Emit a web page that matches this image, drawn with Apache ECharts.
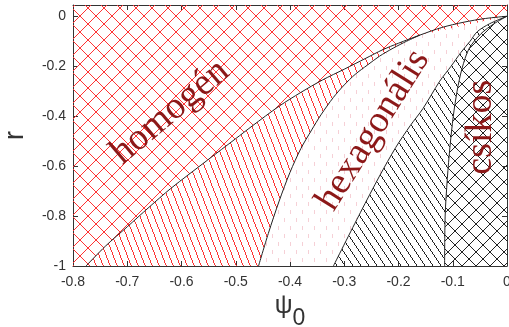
<!DOCTYPE html>
<html>
<head>
<meta charset="utf-8">
<script src="https://cdn.jsdelivr.net/npm/echarts@6/dist/echarts.min.js"></script>
<style>
html, body { margin: 0; padding: 0; background: #fff; }
#main { width: 509px; height: 327px; }
</style>
</head>
<body>
<div id="main"></div>
<script>
// phase boundaries, [psi0, r]
const Y_MAX = 0.045;
const b1 = [[-0.776,-1],[-0.74,-0.92],[-0.70,-0.843],[-0.66,-0.765],[-0.62,-0.69],[-0.552,-0.576],[-0.50,-0.49],[-0.47,-0.44],[-0.42,-0.36],[-0.38,-0.305],[-0.34,-0.255],[-0.30,-0.212],[-0.26,-0.168],[-0.23,-0.135],[-0.20,-0.108],[-0.16,-0.075],[-0.12,-0.045],[-0.08,-0.024],[-0.04,-0.009],[0,0]];
const b2 = [[-0.458,-1],[-0.44,-0.87],[-0.42,-0.74],[-0.40,-0.625],[-0.38,-0.53],[-0.36,-0.455],[-0.343,-0.395],[-0.32,-0.325],[-0.30,-0.275],[-0.28,-0.233],[-0.257,-0.195],[-0.235,-0.16],[-0.21,-0.128],[-0.185,-0.1],[-0.16,-0.075]];
const b3 = [[-0.32,-1],[-0.27,-0.785],[-0.235,-0.64],[-0.205,-0.525],[-0.178,-0.437],[-0.155,-0.37],[-0.124,-0.26],[-0.103,-0.2],[-0.085,-0.145],[-0.068,-0.1],[-0.055,-0.062],[-0.032,-0.03],[0,0]];
const b4 = [[-0.115,-1],[-0.114,-0.8],[-0.11,-0.65],[-0.105,-0.52],[-0.099,-0.4],[-0.092,-0.3],[-0.083,-0.21],[-0.07,-0.13],[-0.048,-0.07],[-0.024,-0.03],[0,0]];
const phaseNames = ['homogén', 'hexagonális', 'csíkos'];

// pixel-drawn hatch tiles (crisp 1px lines like the original)
function tile(w, h, color, draw) {
    var c = document.createElement('canvas');
    c.width = w; c.height = h;
    var ctx = c.getContext('2d');
    ctx.fillStyle = color;
    draw(ctx);
    return c;
}
function cross(p, color) {
    return tile(p, p, color, function (ctx) {
        for (var i = 0; i < p; i++) {
            ctx.fillRect(i, i, 1, 1);
            ctx.fillRect(p - 1 - i, i, 1, 1);
        }
    });
}
function slant(w, h, color) {
    return tile(w, h, color, function (ctx) {
        for (var y = 0; y < h; y++) ctx.fillRect(Math.floor(y * w / h), y, 1, 1);
    });
}
function dots() {
    return tile(12, 16, '#f6d0d6', function (ctx) {
        ctx.fillRect(2, 2, 1, 4);
        ctx.fillRect(8, 10, 1, 4);
    });
}

const fills = {
    homog: { image: cross(16, '#f33'), repeat: 'repeat' },
    redLines: { image: slant(7, 18, '#f33'), repeat: 'repeat' },
    hex: { image: dots(), repeat: 'repeat' },
    blackLines: { image: slant(8, 12, '#222'), repeat: 'repeat' },
    csik: { image: cross(14, '#222'), repeat: 'repeat' }
};

var dom = document.getElementById('main');
var myChart = echarts.init(dom, null, { renderer: 'canvas' });

var tail = b1.filter(function (p) { return p[0] > -0.16; });
var regions = [
    { pts: [[-0.8, Y_MAX], [0, Y_MAX]].concat(b1.slice().reverse(), [[-0.8, -1]]), fill: fills.homog },
    { pts: b1.concat(b2.slice().reverse()), fill: fills.redLines },
    { pts: b2.concat(tail, b3.slice().reverse()), fill: fills.hex },
    { pts: b3.concat(b4.slice().reverse()), fill: fills.blackLines },
    { pts: b4.concat([[0, -1]]), fill: fills.csik }
];

function polySeries(pts, fill, stroke) {
    return {
        type: 'custom',
        xAxisIndex: 0, yAxisIndex: 0,
        silent: true,
        data: [0],
        renderItem: function (params, api) {
            var p = pts.map(function (d) { return api.coord(d); });
            if (fill) {
                return { type: 'polygon', shape: { points: p }, style: { fill: fill, stroke: null } };
            }
            return { type: 'polyline', shape: { points: p, smooth: 0.3 }, style: { fill: null, stroke: stroke, lineWidth: 1 } };
        }
    };
}
function labelSeries(text, pos, rot) {
    return {
        type: 'custom',
        silent: true,
        data: [0],
        renderItem: function (params, api) {
            var c = api.coord(pos);
            return {
                type: 'text', x: c[0], y: c[1], rotation: rot * Math.PI / 180,
                style: { text: text, fill: '#8c1818', fontSize: 38, fontFamily: 'Liberation Serif', align: 'center', verticalAlign: 'middle' }
            };
        }
    };
}

var series = [];
regions.forEach(function (r) { series.push(polySeries(r.pts, r.fill)); });
[b1, b2, b3, b4].forEach(function (b) { series.push(polySeries(b, null, '#222')); });
series.push(labelSeries(phaseNames[0], [-0.621, -0.384], 40));
series.push(labelSeries(phaseNames[1], [-0.247, -0.456], 58));
series.push(labelSeries(phaseNames[2], [-0.048, -0.444], 90));

var lineStyle = { color: '#333', width: 1 };
var tickStyle = { inside: true, length: 5, lineStyle: { color: '#333' } };
var option = {
    animation: false,
    grid: { left: 73, right: 2, top: 5, bottom: 61, outerBoundsMode: 'none', containLabel: false },
    xAxis: [
        {
            type: 'value', min: -0.8, max: 0, interval: 0.1,
            axisLine: { onZero: false, lineStyle: lineStyle }, axisTick: tickStyle, splitLine: { show: false },
            axisLabel: { color: '#333', fontSize: 14, fontFamily: 'Liberation Sans', margin: 9 },
            name: '{a|ψ}{b|0}', nameLocation: 'middle', nameGap: 21,
            nameTextStyle: {
                rich: {
                    a: { fontSize: 25, fontFamily: 'Liberation Sans', color: '#333', padding: [0, 0, 6, 0] },
                    b: { fontSize: 23, fontFamily: 'Liberation Sans', color: '#333', padding: [18, 0, 0, 0] }
                }
            }
        },
        {
            type: 'value', position: 'top', min: -0.8, max: 0, interval: 0.1,
            axisLine: { onZero: false, lineStyle: lineStyle }, axisTick: tickStyle, axisLabel: { show: false }, splitLine: { show: false }
        }
    ],
    yAxis: [
        {
            type: 'value', min: -1, max: Y_MAX, interval: 0.2,
            axisLine: { onZero: false, lineStyle: lineStyle }, axisTick: tickStyle, splitLine: { show: false },
            axisLabel: {
                color: '#333', fontSize: 14, fontFamily: 'Liberation Sans', margin: 7,
                formatter: function (v) { return Math.abs(v * 5 - Math.round(v * 5)) < 1e-6 ? String(Math.round(v * 5) / 5) : ''; }
            },
            name: 'r', nameLocation: 'middle', nameGap: 44, nameRotate: 90,
            nameTextStyle: { fontSize: 27, fontFamily: 'Liberation Sans', color: '#333' }
        },
        {
            type: 'value', position: 'right', min: -1, max: Y_MAX, interval: 0.2,
            axisLine: { onZero: false, lineStyle: lineStyle }, axisTick: tickStyle, axisLabel: { show: false }, splitLine: { show: false }
        }
    ],
    series: series
};

if (option && typeof option === 'object') {
    myChart.setOption(option);
}
window.addEventListener('resize', myChart.resize);
</script>
</body>
</html>
